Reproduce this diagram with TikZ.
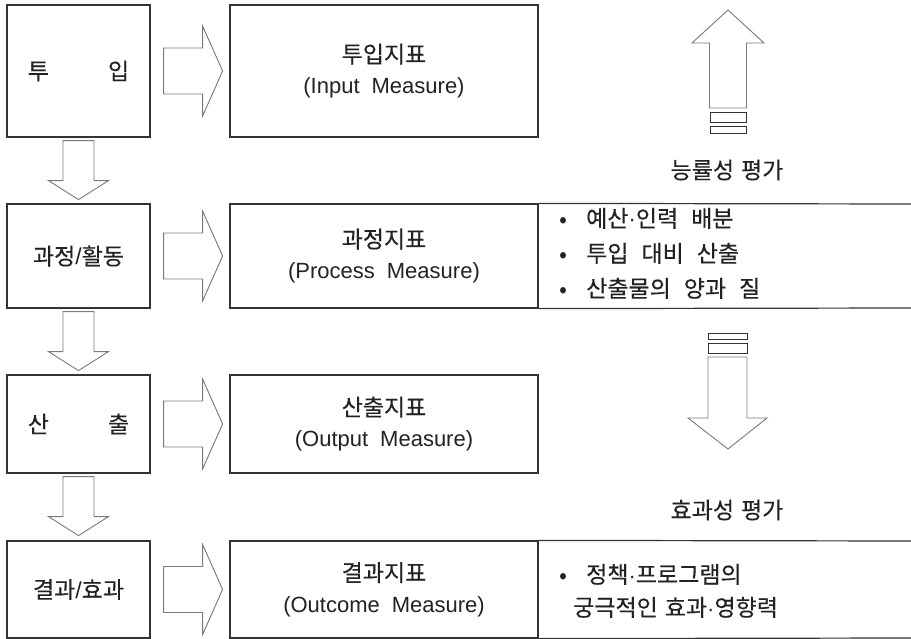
\documentclass[tikz,border=0pt]{standalone}
\usepackage{fontspec}
\setmainfont{Liberation Sans}
\newfontfamily\kr[FakeBold=0.3]{Noto Sans CJK KR}
\newcommand\K{\kr\fontsize{23}{31}\selectfont}
\newcommand\mdot{{\rmfamily\fontsize{22}{31}\selectfont ·}}
\newcommand\slsh{{\rmfamily\fontsize{23}{31}\selectfont /}}
\newcommand\ws{\hspace{7pt}}
\newcommand\wl{\hspace{13pt}}
\usetikzlibrary{calc}
\definecolor{boxc}{HTML}{333333}
\definecolor{arrc}{HTML}{7A7A7A}
\definecolor{txtc}{HTML}{222222}
\begin{document}
\begin{tikzpicture}[x=1pt,y=-1pt,
  box/.style={draw=boxc, line width=1.2pt, inner sep=0pt, fill=white},
  blk/.style={draw=arrc, line width=0.9pt, fill=white, line join=miter},
  bar/.style={draw=boxc, line width=0.9pt, fill=white},
  rule/.style={draw=boxc, line width=1.2pt},
  txt/.style={text=txtc, font=\fontsize{22}{31}\selectfont},
  lbox/.style={box, txt, minimum width=143pt, align=center},
  mbox/.style={box, txt, minimum width=308pt, align=center},
  itm/.style={txt, anchor=base west, inner sep=0pt},
  dot/.style={txt, anchor=base, inner sep=0pt}]
\useasboundingbox (0,0) rectangle (911,639);
\newcommand\rightblock[1]{%
  \draw[blk] ($(#1.east)+(13,-23)$) -- ($(#1.east)+(52,-23)$) -- ($(#1.east)+(52,-45)$)
    -- ($(#1.east)+(72,0)$) -- ($(#1.east)+(52,45)$) -- ($(#1.east)+(52,23)$)
    -- ($(#1.east)+(13,23)$) -- cycle;}
\newcommand\downblock[1]{%
  \draw[blk] ($(#1.south)+(-15.5,3)$) -- ($(#1.south)+(15.5,3)$) -- ($(#1.south)+(15.5,43)$)
    -- ($(#1.south)+(30,43)$) -- ($(#1.south)+(0,62)$) -- ($(#1.south)+(-30,43)$)
    -- ($(#1.south)+(-15.5,43)$) -- cycle;}
% left column
\node[lbox, minimum height=132pt] (L1) at (78.5,71) {\K 투\hspace{59pt}입};
\node[lbox, minimum height=104pt] (L2) at (78.5,256) {\K 과정\slsh 활동};
\node[lbox, minimum height=98pt] (L3) at (78.5,424) {\K 산\hspace{59pt}출};
\node[lbox, minimum height=97pt] (L4) at (78.5,589.5) {\K 결과\slsh 효과};
% middle column
\node[mbox, minimum height=132pt] (M1) at (384,71) {{\K 투입지표}\\(Input\hspace{12pt}Measure)};
\node[mbox, minimum height=104pt] (M2) at (384,256) {{\K 과정지표}\\(Process\hspace{12pt}Measure)};
\node[mbox, minimum height=98pt] (M3) at (384,424) {{\K 산출지표}\\(Output\hspace{12pt}Measure)};
\node[mbox, minimum height=97pt] (M4) at (384,589.5) {{\K 결과지표}\\(Outcome\hspace{12pt}Measure)};
% block arrows
\rightblock{L1}\rightblock{L2}\rightblock{L3}\rightblock{L4}
\downblock{L1}\downblock{L2}\downblock{L3}
% right rules
\coordinate (E2t) at (911,204);
\coordinate (E2b) at (911,308);
\coordinate (E4t) at (911,541);
\coordinate (E4b) at (911,638);
\draw[rule] (M2.north east) -- (E2t);
\draw[rule] (M2.south east) -- (E2b);
\draw[rule] (M4.north east) -- (E4t);
\draw[rule] (M4.south east) -- (E4b);
% right items
\node[dot] (b21) at (563,227) {\K •};
\node[itm] (t21) at (586,227) {\K 예산\mdot 인력\wl 배분};
\node[dot] (b22) at (563,262) {\K •};
\node[itm] (t22) at (586,262) {\K 투입\wl 대비\wl 산출};
\node[dot] (b23) at (563,297) {\K •};
\node[itm] (t23) at (586,297) {\K 산출물의\wl 양과\wl 질};
\node[dot] (b41) at (563,583) {\K •};
\node[itm] (t41) at (586,583) {\K 정책\mdot 프로그램의};
\node[itm] (t42) at (573,616) {\K 궁극적인\ws 효과\mdot 영향력};
% evaluation arrows
\draw[blk] (709.5,108) -- (709.5,43) -- (692,43) -- (728,10) -- (764,43) -- (746.5,43) -- (746.5,108) -- cycle;
\draw[bar] (710,112) rectangle (746,122);
\draw[bar] (710,126) rectangle (746,133);
\node[txt] (eff1) at (727,170) {\K 능률성\ws 평가};
\draw[bar] (708,333) rectangle (747,339);
\draw[bar] (708,343) rectangle (747,353);
\draw[blk] (708,357) -- (747,357) -- (747,418) -- (767,418) -- (728,449) -- (688,418) -- (708,418) -- cycle;
\node[txt] (eff2) at (727,510) {\K 효과성\ws 평가};
\end{tikzpicture}
\end{document}
